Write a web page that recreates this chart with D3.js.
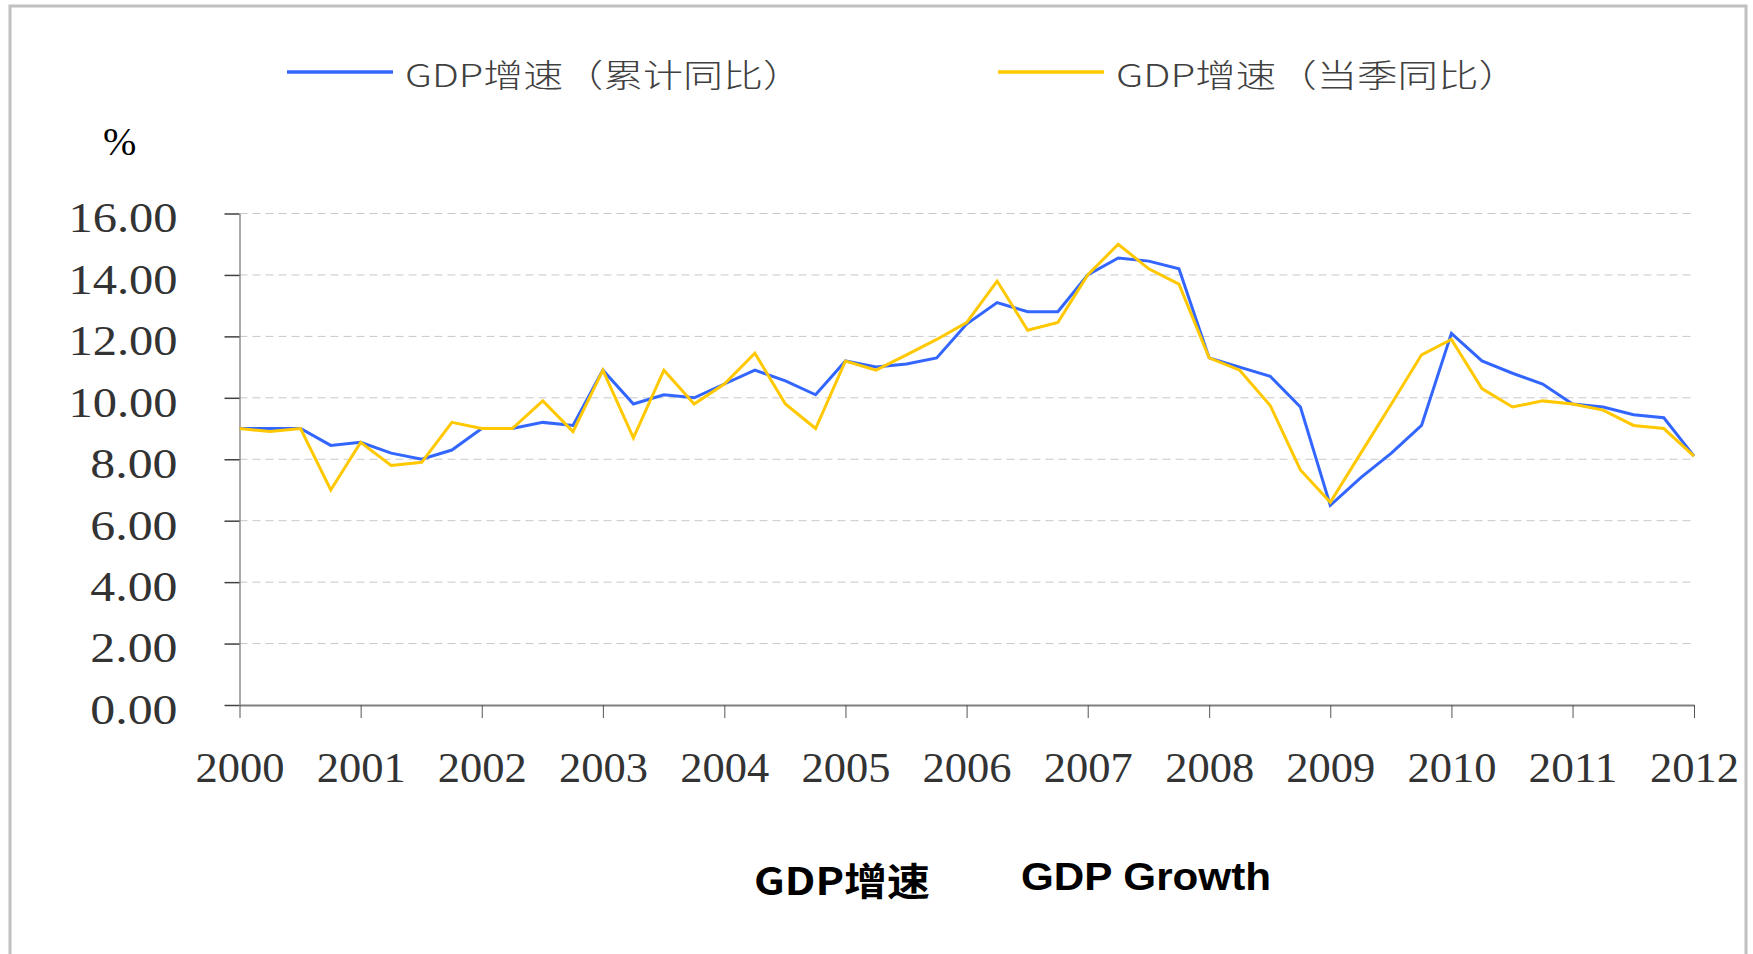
<!DOCTYPE html>
<html>
<head>
<meta charset="utf-8">
<script src="https://cdn.jsdelivr.net/npm/d3@7"></script>
<style>
  body { margin: 0; background: #fff; }
  svg { display: block; }
</style>
</head>
<body>
<svg id="chart" width="1753" height="954"></svg>
<script>
// quarterly observations, 2000Q1 .. 2012Q1
const quarters = [
  "2000-03", "2000-06", "2000-09", "2000-12",
  "2001-03", "2001-06", "2001-09", "2001-12",
  "2002-03", "2002-06", "2002-09", "2002-12",
  "2003-03", "2003-06", "2003-09", "2003-12",
  "2004-03", "2004-06", "2004-09", "2004-12",
  "2005-03", "2005-06", "2005-09", "2005-12",
  "2006-03", "2006-06", "2006-09", "2006-12",
  "2007-03", "2007-06", "2007-09", "2007-12",
  "2008-03", "2008-06", "2008-09", "2008-12",
  "2009-03", "2009-06", "2009-09", "2009-12",
  "2010-03", "2010-06", "2010-09", "2010-12",
  "2011-03", "2011-06", "2011-09", "2011-12",
  "2012-03"
];

// GDP增速（累计同比）
const cumulative = [
  9.0, 9.0, 9.0, 8.45,
  8.55, 8.2, 8.0, 8.3,
  9.0, 9.0, 9.2, 9.1,
  10.9, 9.8, 10.1, 10.0,
  10.45, 10.9, 10.55, 10.1,
  11.2, 11.0, 11.1, 11.3,
  12.4, 13.1, 12.8, 12.8,
  14.0, 14.55, 14.45, 14.2,
  11.3, 11.0, 10.7, 9.7,
  6.5, 7.4, 8.2, 9.1,
  12.1, 11.2, 10.8, 10.45,
  9.8, 9.7, 9.45, 9.35,
  8.1
];

// GDP增速（当季同比）
const quarterly = [
  9.0, 8.9, 9.0, 7.0,
  8.55, 7.8, 7.9, 9.2,
  9.0, 9.0, 9.9, 8.9,
  10.9, 8.7, 10.9, 9.8,
  10.45, 11.45, 9.8, 9.0,
  11.2, 10.9, 11.4, 11.9,
  12.45, 13.8, 12.2, 12.45,
  14.0, 15.0, 14.2, 13.7,
  11.3, 10.9, 9.75, 7.65,
  6.6, 8.2, 9.8, 11.4,
  11.9, 10.3, 9.7, 9.9,
  9.8, 9.6, 9.1, 9.0,
  8.1
];

const yearTicks = ["2000", "2001", "2002", "2003", "2004", "2005", "2006",
                   "2007", "2008", "2009", "2010", "2011", "2012"];
const yTicks = [0, 2, 4, 6, 8, 10, 12, 14, 16];

const seriesNames = ["GDP增速（累计同比）", "GDP增速（当季同比）"];
const seriesColors = ["#3366ff", "#ffc800"];

const parse = d3.timeParse("%Y-%m");
const svg = d3.select("#chart");

// outer frame
svg.append("rect")
  .attr("x", 10).attr("y", 6)
  .attr("width", 1736).attr("height", 1000)
  .attr("fill", "#fff")
  .attr("stroke", "#c0c0c0")
  .attr("stroke-width", 3);

const x = d3.scaleTime()
  .domain([parse("2000-03"), parse("2012-03")])
  .range([239.5, 1694]);

const y = d3.scaleLinear()
  .domain([0, 16])
  .range([705, 213.5]);

// dashed gridlines
svg.append("g")
  .selectAll("line")
  .data(yTicks.filter(d => d > 0))
  .enter()
  .append("line")
  .attr("x1", x.range()[0])
  .attr("x2", x.range()[1])
  .attr("y1", d => y(d))
  .attr("y2", d => y(d))
  .attr("stroke", "#c8c8c8")
  .attr("stroke-width", 1)
  .attr("stroke-dasharray", "8,5");

// y axis
const yAxis = svg.append("g")
  .attr("transform", `translate(${x.range()[0]},0)`)
  .call(d3.axisLeft(y).tickValues(yTicks).tickFormat(d3.format(".2f")).tickSize(15).tickSizeOuter(0));
yAxis.select(".domain").attr("stroke", "#8c8c8c").attr("stroke-width", 1.5);
yAxis.selectAll(".tick line").attr("stroke", "#404040").attr("stroke-width", 1.5);
yAxis.selectAll(".tick text")
  .attr("x", -62)
  .attr("dy", null)
  .attr("y", 18.4)
  .attr("fill", "#333")
  .style("font-family", "'Liberation Serif', 'DejaVu Serif', serif")
  .style("font-size", "43px")
  .attr("textLength", function() { return this.textContent.length * 21.8; })
  .attr("lengthAdjust", "spacingAndGlyphs");

// x axis
const xAxis = svg.append("g")
  .attr("transform", `translate(0,${y(0)})`)
  .call(d3.axisBottom(x)
    .tickValues(yearTicks.map(t => parse(t + "-03")))
    .tickFormat(d3.timeFormat("%Y"))
    .tickSize(13)
    .tickSizeOuter(0));
xAxis.select(".domain").attr("stroke", "#808080").attr("stroke-width", 2);
xAxis.selectAll(".tick line").attr("stroke", "#555").attr("stroke-width", 1);
xAxis.selectAll(".tick text")
  .attr("dy", null)
  .attr("y", 77)
  .attr("fill", "#333")
  .style("font-family", "'Liberation Serif', 'DejaVu Serif', serif")
  .style("font-size", "43px")
  .attr("textLength", 89)
  .attr("lengthAdjust", "spacingAndGlyphs");

// lines
const dates = quarters.map(parse);
const line = d3.line()
  .x((d, i) => x(dates[i]))
  .y(d => y(d));

[cumulative, quarterly].forEach((vals, k) => {
  svg.append("path")
    .datum(vals)
    .attr("fill", "none")
    .attr("stroke", seriesColors[k])
    .attr("stroke-width", 3)
    .attr("d", line);
});

// legend
const legendX = [287, 998];
const legendW = [398, 403];
seriesNames.forEach((name, k) => {
  const g = svg.append("g").attr("transform", `translate(${legendX[k]},0)`);
  g.append("line")
    .attr("x1", 0).attr("x2", 106)
    .attr("y1", 72).attr("y2", 72)
    .attr("stroke", seriesColors[k])
    .attr("stroke-width", 3.5);
  g.append("text")
    .attr("x", 118)
    .attr("y", 87)
    .attr("fill", "#404040")
    .style("font-family", "'Noto Sans CJK SC', sans-serif")
    .style("font-size", "32px")
    .style("font-weight", "300")
    .attr("textLength", legendW[k])
    .attr("lengthAdjust", "spacingAndGlyphs")
    .text(name);
});

// unit
svg.append("text")
  .attr("x", 103).attr("y", 155)
  .attr("fill", "#000")
  .style("font-family", "'Liberation Serif', serif")
  .style("font-size", "40px")
  .text("%");

// titles
svg.append("text")
  .attr("x", 754).attr("y", 895)
  .attr("fill", "#000")
  .style("font-family", "'Noto Sans CJK SC', sans-serif")
  .style("font-weight", "700")
  .style("font-size", "38px")
  .attr("textLength", 176)
  .attr("lengthAdjust", "spacingAndGlyphs")
  .text("GDP增速");

svg.append("text")
  .attr("x", 1021).attr("y", 890)
  .attr("fill", "#000")
  .style("font-family", "'Liberation Sans', Arial, sans-serif")
  .style("font-weight", "700")
  .style("font-size", "39px")
  .attr("textLength", 250)
  .attr("lengthAdjust", "spacingAndGlyphs")
  .text("GDP Growth");
</script>
</body>
</html>
